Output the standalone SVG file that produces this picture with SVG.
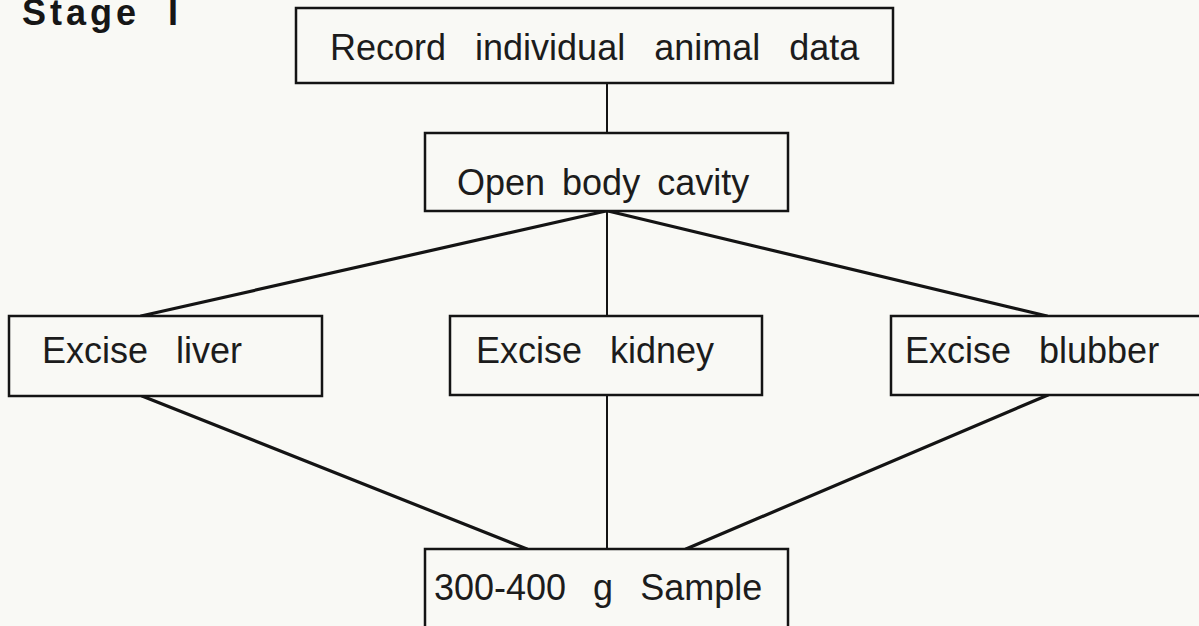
<svg xmlns="http://www.w3.org/2000/svg" width="1199" height="626" viewBox="0 0 1199 626">
  <style>
    .box { fill: #f9f9f5; stroke: #141414; stroke-width: 2.5; }
    .lbl { font-family: "Liberation Sans", Arial, sans-serif; font-size: 36px; fill: #1c1c1c; word-spacing: 18px; }
    .conn line { stroke: #141414; stroke-linecap: round; }
    .diag { stroke-width: 3.2; }
    .vert { stroke-width: 2; }
  </style>
  <rect width="1199" height="626" fill="#f9f9f5"/>
  <text x="22" y="25" font-family="Liberation Sans, Arial, sans-serif" font-size="36" font-weight="bold" letter-spacing="4" word-spacing="14" fill="#161616">Stage I</text>

  <g id="connectors" class="conn">
    <line class="vert" x1="607" y1="83" x2="607" y2="133"/>
    <line class="diag" x1="606" y1="211" x2="141" y2="316"/>
    <line class="vert" x1="607" y1="211" x2="607" y2="316"/>
    <line class="diag" x1="608" y1="211" x2="1047" y2="316"/>
    <line class="diag" x1="142" y1="396" x2="527" y2="549"/>
    <line class="vert" x1="607" y1="395" x2="607" y2="549"/>
    <line class="diag" x1="1048" y1="395" x2="686" y2="549"/>
  </g>

  <g id="node-record">
    <rect class="box" x="296" y="8" width="597" height="75"/>
    <text class="lbl" x="330" y="60" style="word-spacing:19px">Record individual animal data</text>
  </g>
  <g id="node-open">
    <rect class="box" x="425" y="133" width="363" height="78"/>
    <text class="lbl" x="457" y="195" style="word-spacing:7px">Open body cavity</text>
  </g>
  <g id="node-liver">
    <rect class="box" x="9" y="316" width="313" height="80"/>
    <text class="lbl" x="42" y="363">Excise liver</text>
  </g>
  <g id="node-kidney">
    <rect class="box" x="450" y="316" width="312" height="79"/>
    <text class="lbl" x="476" y="363">Excise kidney</text>
  </g>
  <g id="node-blubber">
    <rect class="box" x="891" y="316" width="320" height="79"/>
    <text class="lbl" x="905" y="363">Excise blubber</text>
  </g>
  <g id="node-sample">
    <rect class="box" x="425" y="549" width="363" height="90"/>
    <text class="lbl" x="434" y="600" style="word-spacing:17px">300-400 g Sample</text>
  </g>
</svg>
